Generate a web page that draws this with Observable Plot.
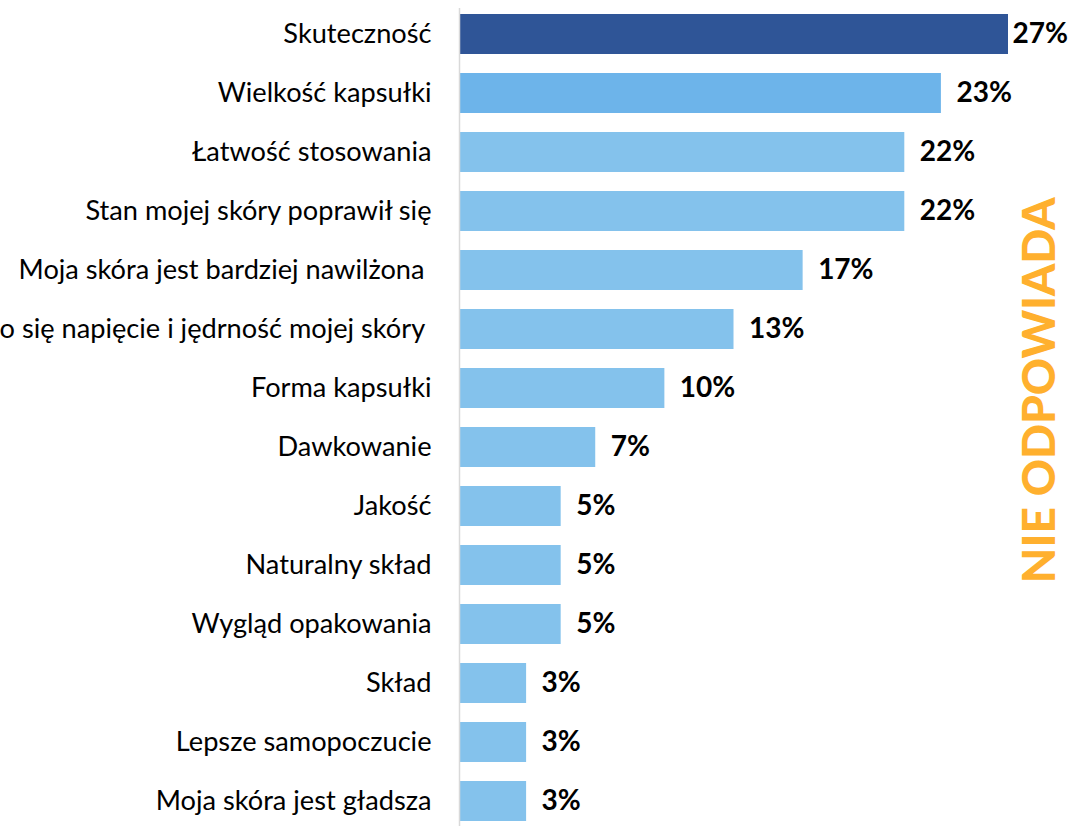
<!DOCTYPE html>
<html>
<head>
<meta charset="utf-8">
<script src="https://cdn.jsdelivr.net/npm/d3@7"></script>
<script src="https://cdn.jsdelivr.net/npm/@observablehq/plot@0.6"></script>
<style>
  body { margin: 0; background: #fff; }
  #chart svg { overflow: visible; }
</style>
</head>
<body>
<div id="chart"></div>
<script>
const categories = [
  "Skuteczność",
  "Wielkość kapsułki",
  "Łatwość stosowania",
  "Stan mojej skóry poprawił się",
  "Moja skóra jest bardziej nawilżona ",
  "Poprawiło się napięcie i jędrność mojej skóry ",
  "Forma kapsułki",
  "Dawkowanie",
  "Jakość",
  "Naturalny skład",
  "Wygląd opakowania",
  "Skład",
  "Lepsze samopoczucie",
  "Moja skóra jest gładsza"
];
const values = [27, 23.7, 21.9, 21.9, 16.9, 13.5, 10.1, 6.7, 5.0, 5.0, 5.0, 3.3, 3.3, 3.3];
const valueLabels = ["27%", "23%", "22%", "22%", "17%", "13%", "10%", "7%", "5%", "5%", "5%", "3%", "3%", "3%"];
const barColors = ["#2F5597", "#6DB4EA", "#84C2EC", "#84C2EC", "#84C2EC", "#84C2EC", "#84C2EC",
                   "#84C2EC", "#84C2EC", "#84C2EC", "#84C2EC", "#84C2EC", "#84C2EC", "#84C2EC"];
const sideNote = ["NIE ODPOWIADA"];

const data = categories.map((c, i) => ({
  category: c, value: values[i], label: valueLabels[i], color: barColors[i], first: i === 0
}));

const chart = Plot.plot({
  width: 1076,
  height: 826,
  marginLeft: 459,
  marginRight: 68,
  marginTop: 13,
  marginBottom: 3.4,
  style: { fontFamily: "Lato, 'Open Sans', sans-serif", background: "#fff", overflow: "visible" },
  x: { domain: [0, 27], axis: null },
  y: { domain: categories, paddingInner: 0.325, paddingOuter: 0, label: null },
  axis: null,
  marks: [
    Plot.axisY({ tickSize: 0, tickPadding: 28, fontSize: 27.2, label: null, color: "#000" }),
    Plot.barX(data, { x: "value", y: "category", fill: "color" }),
    Plot.ruleX([0], { stroke: "#d9d9d9", strokeWidth: 1.5, insetTop: -5, insetBottom: -4 }),
    Plot.text(data.filter(d => !d.first), {
      x: "value", y: "category", text: "label", textAnchor: "start", dx: 15,
      fontSize: 28, fontWeight: "bold", fill: "#000"
    }),
    Plot.text(data.filter(d => d.first), {
      x: "value", y: "category", text: "label", textAnchor: "start", dx: 4,
      fontSize: 28, fontWeight: "bold", fill: "#000"
    }),
    Plot.text(sideNote, {
      frameAnchor: "right", text: d => d, rotate: -90, dx: 32, dy: -28,
      textAnchor: "middle", lineAnchor: "middle",
      fontSize: 46, fontWeight: 900, fill: "#FFB02E"
    })
  ]
});
document.getElementById("chart").appendChild(chart);
</script>
</body>
</html>
